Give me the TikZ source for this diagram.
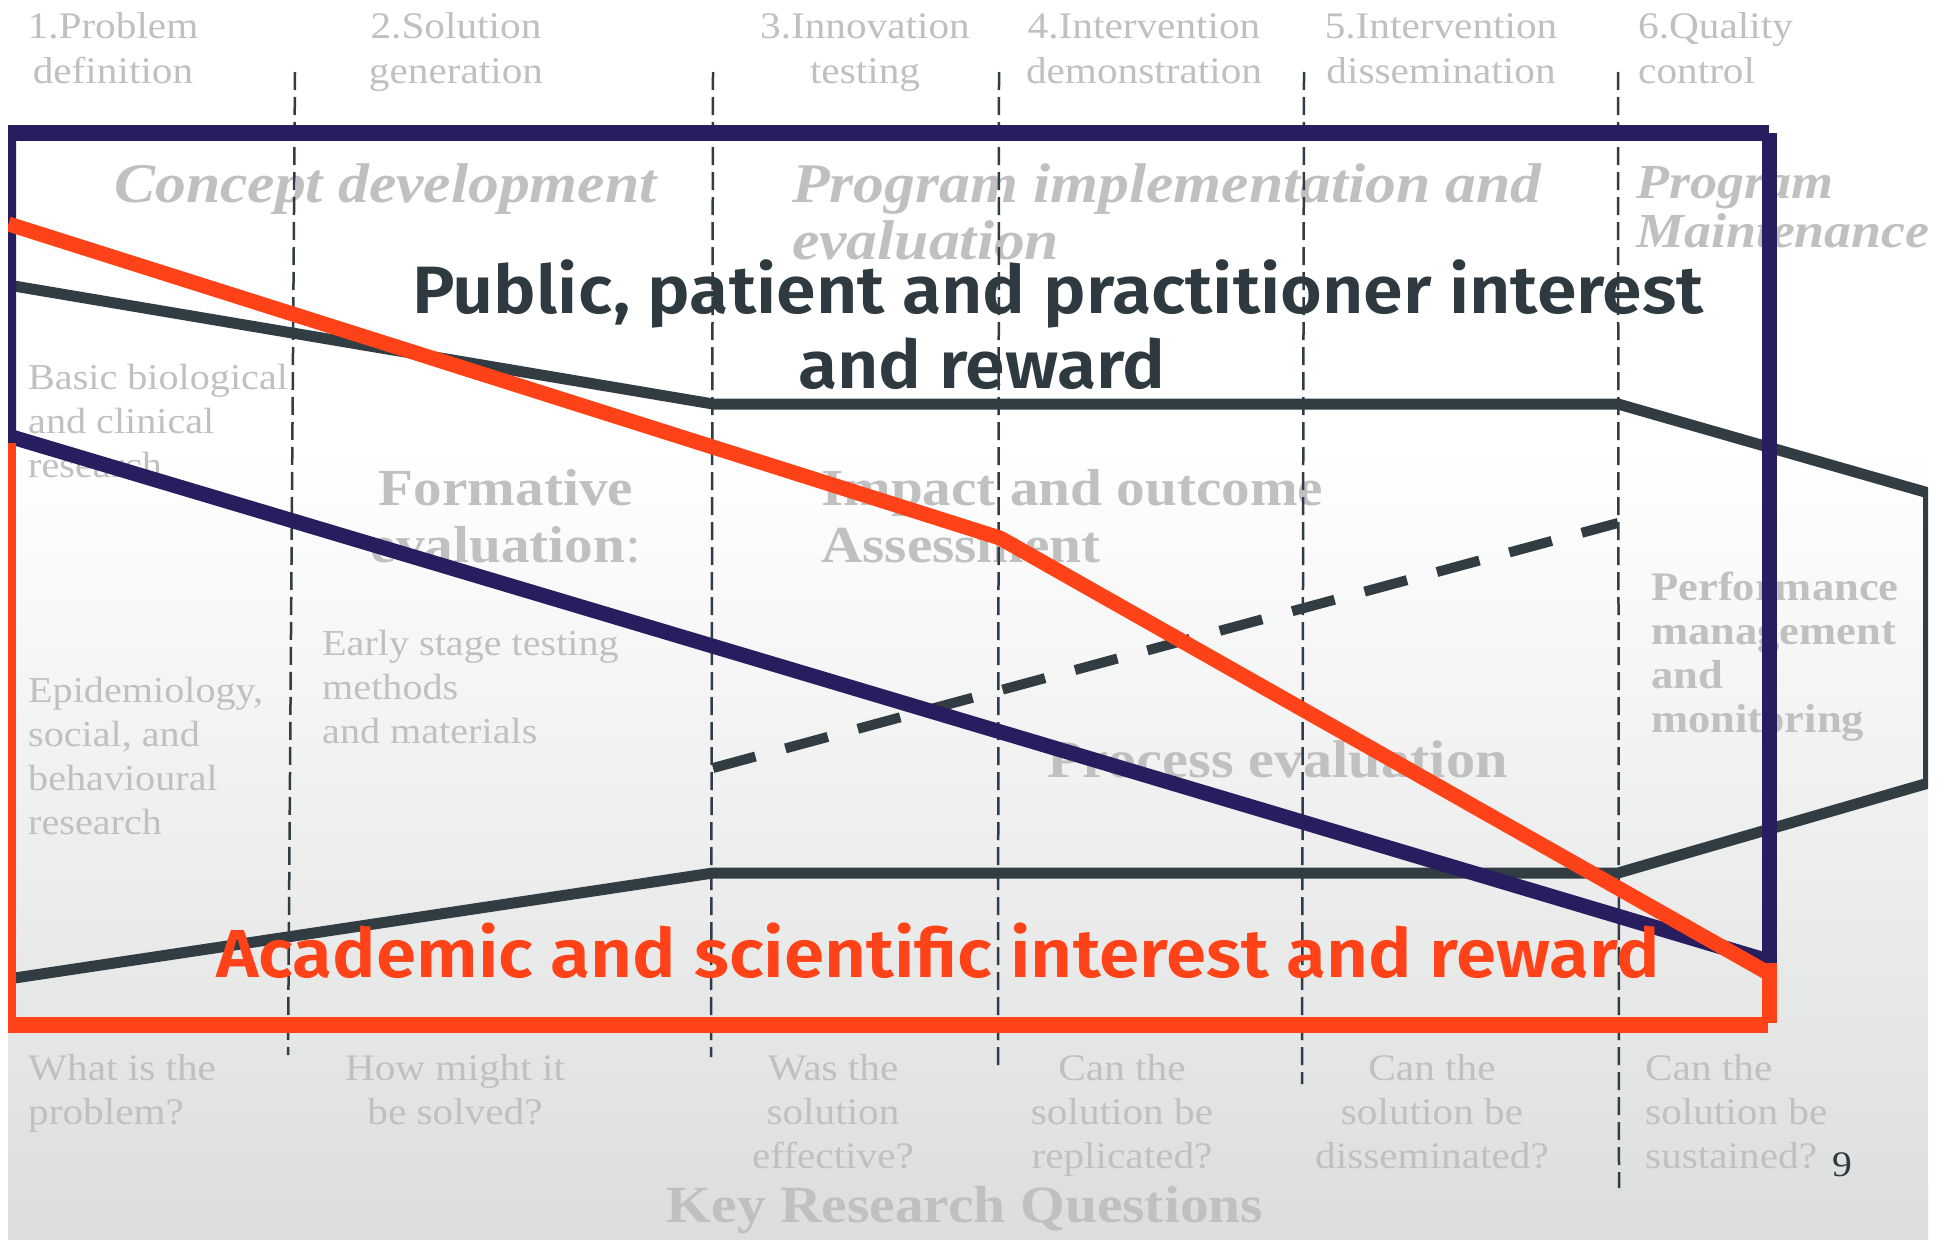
\documentclass[tikz,border=0pt]{standalone}
\usepackage{fontspec}
\newfontfamily\gserif{Liberation Serif}[FakeStretch=1.1]
\newfontfamily\ttlfont{Fira Sans}[FakeStretch=1.07, BoldFont={* SemiBold}]
\newcommand\mlstack[2][l]{\begin{tabular}[t]{@{}#1@{}}#2\end{tabular}}
\definecolor{navy}{HTML}{271D5F}
\definecolor{orng}{HTML}{FF4217}
\definecolor{slate}{HTML}{323D43}
\definecolor{lgray}{HTML}{C0C0C0}
\definecolor{bgbot}{HTML}{DCDDDD}
\definecolor{ttldark}{HTML}{2F3A40}
\begin{document}
\begin{tikzpicture}[x=1pt,y=-1pt,
  lbl/.style={inner sep=0pt, text=lgray, font=\gserif\fontsize{36.5}{44}\selectfont},
  toplbl/.style={inner sep=0pt, text=lgray, font=\gserif\fontsize{37.5}{44}\selectfont},
  ital/.style={inner sep=0pt, text=lgray, font=\gserif\bfseries\itshape\fontsize{56}{57}\selectfont},
  italsm/.style={inner sep=0pt, text=lgray, font=\gserif\bfseries\itshape\fontsize{49}{49.5}\selectfont},
  bigb/.style={inner sep=0pt, text=lgray, font=\gserif\bfseries\fontsize{52}{57.5}\selectfont},
  procb/.style={inner sep=0pt, text=lgray, font=\gserif\bfseries\fontsize{53}{57.5}\selectfont},
  perf/.style={inner sep=0pt, text=lgray, font=\gserif\bfseries\fontsize{40.5}{44}\selectfont},
  keyq/.style={inner sep=0pt, text=lgray, font=\gserif\bfseries\fontsize{52.3}{56}\selectfont},
  pagenum/.style={inner sep=0pt, text=ttldark, font=\gserif\fontsize{36}{44}\selectfont},
  bigttl/.style={inner sep=0pt, font=\ttlfont\bfseries\fontsize{67}{75}\selectfont},
  acadttl/.style={inner sep=0pt, font=\ttlfont\bfseries\fontsize{68}{75}\selectfont},
  vdash/.style={draw=slate, line width=2.5pt, dash pattern=on 18pt off 7pt},
  slateline/.style={draw=slate, line width=11pt, line join=miter},
  navyline/.style={draw=navy, line width=15pt},
  orline/.style={draw=orng, line width=15pt}
]
\useasboundingbox (0,0) rectangle (1937,1239);
\fill[white] (0,0) rectangle (1937,1239);
\shade[top color=white, bottom color=bgbot] (8,450) rectangle (1928,1239);

% phase labels
\node[toplbl, anchor=base] (t1) at (113,39) {\mlstack[c]{1.Problem\\definition}};
\node[toplbl, anchor=base] (t2) at (456,39) {\mlstack[c]{2.Solution\\generation}};
\node[toplbl, anchor=base] (t3) at (865,39) {\mlstack[c]{3.Innovation\\testing}};
\node[toplbl, anchor=base] (t4) at (1144,39) {\mlstack[c]{4.Intervention\\demonstration}};
\node[toplbl, anchor=base] (t5) at (1441,39) {\mlstack[c]{5.Intervention\\dissemination}};
\node[toplbl, anchor=base west] (t6) at (1638,39) {\mlstack{6.Quality\\control}};

% stage headings
\node[ital, anchor=base west] (h1) at (114,202) {Concept development};
\node[ital, anchor=base west] (h2) at (792,202) {\mlstack{Program implementation and\\evaluation}};
\node[italsm, anchor=base west] (h3) at (1636,198) {\mlstack{Program\\Maintenance}};

% body texts
\node[lbl, anchor=base west] (b1) at (28,389) {\mlstack{Basic biological\\and clinical\\research}};
\node[lbl, anchor=base west] (b2) at (28,702) {\mlstack{Epidemiology,\\social, and\\behavioural\\research}};
\node[bigb, anchor=base] (f1) at (506,505) {\mlstack[c]{Formative\\evaluation{\mdseries :}}};
\node[lbl, anchor=base west] (e1) at (322,655) {\mlstack{Early stage testing\\methods\\and materials}};
\node[bigb, anchor=base west] (i1) at (821,505) {\mlstack{Impact and outcome\\Assessment}};
\node[procb, anchor=base west] (p1) at (1047,777) {Process evaluation};
\node[perf, anchor=base west] (pm) at (1651,600) {\mlstack{Performance\\management\\and\\monitoring}};

% key research questions
\node[toplbl, anchor=base west] (q1) at (28,1080) {\mlstack{What is the\\problem?}};
\node[toplbl, anchor=base] (q2) at (455,1080) {\mlstack[c]{How might it\\be solved?}};
\node[toplbl, anchor=base] (q3) at (833,1080) {\mlstack[c]{Was the\\solution\\effective?}};
\node[toplbl, anchor=base] (q4) at (1122,1080) {\mlstack[c]{Can the\\solution be\\replicated?}};
\node[toplbl, anchor=base] (q5) at (1432,1080) {\mlstack[c]{Can the\\solution be\\disseminated?}};
\node[toplbl, anchor=base west] (q6) at (1645,1080) {\mlstack{Can the\\solution be\\sustained?}};
\node[keyq, anchor=base] (kq) at (965,1222) {Key Research Questions};
\node[pagenum, anchor=base west] (pg) at (1832,1176) {9};

% phase separators
\draw[vdash] (295,72) -- (288,1055);
\draw[vdash] (713,72) -- (711,1057);
\draw[vdash] (999,72) -- (998,1070);
\draw[vdash] (1304,72) -- (1302,1084);
\draw[vdash] (1618,72) -- (1619,1188);

\begin{scope}
\clip (8,0) rectangle (1928,1239);
% slate band
\draw[slateline] (8,285) -- (713,404) -- (1618,404) -- (1928.5,493) -- (1928.5,783) -- (1618,873) -- (713,873) -- (8,979);
% dashed rising line
\draw[draw=slate, line width=10pt, dash pattern=on 44pt off 31pt] (713,768) -- (1618,523);
% navy frame and diagonal
\draw[navyline, line width=16pt] (0,133) -- (1769,133);
\draw[navyline] (1769.5,133) -- (1769.5,963);
\draw[navyline, line join=miter] (8.5,125) -- (8.5,436) -- (1765,960);
% orange diagonal and frame
\draw[orline, line join=round] (8.5,224) -- (1000,538) -- (1768,973);
\draw[orline] (8.5,443) -- (8.5,1025);
\draw[orline, line width=16pt] (0,1025) -- (1768,1025);
\draw[orline] (1769.5,963) -- (1769.5,1023);
\end{scope}

% titles
\node[bigttl, text=ttldark, anchor=base] (pub1) at (1058,313) {Public, patient and practitioner interest};
\node[bigttl, text=ttldark, anchor=base] (pub2) at (982,388) {and reward};
\node[acadttl, text=orng, anchor=base] (acad) at (938,977) {Academic and scientific interest and reward};
\end{tikzpicture}
\end{document}
